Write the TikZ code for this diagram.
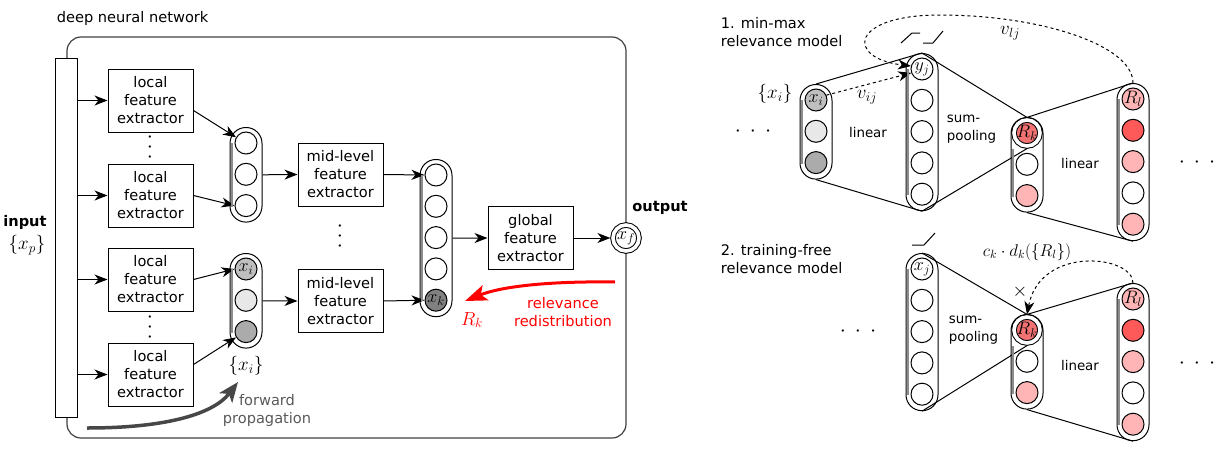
\documentclass[tikz,border=0pt]{standalone}
\usepackage{fix-cm}
\usepackage{fontspec}
\setmainfont{DejaVu Sans}
\usetikzlibrary{arrows.meta}

\definecolor{lightred}{HTML}{FFB5B5}
\definecolor{midred}{HTML}{F07272}
\definecolor{strongred}{HTML}{FF5A5A}

\newcommand{\vdotsfar}{\vbox{\baselineskip=10pt\lineskiplimit=-20pt\hbox{$\cdot$}\hbox{$\cdot$}\hbox{$\cdot$}}}
\newcommand{\hdotsfar}{$\cdot$\hspace{9pt}$\cdot$\hspace{9pt}$\cdot$}

\tikzset{
  txt/.style={font=\fontsize{14.6}{18}\selectfont, align=center},
  smalltxt/.style={font=\fontsize{13.4}{18}\selectfont, align=center},
  boldtxt/.style={font=\fontsize{14.6}{18}\selectfont\bfseries},
  mathtxt/.style={font=\fontsize{19}{22}\selectfont},
  dotstxt/.style={font=\fontsize{22}{22}\selectfont, inner sep=0pt},
  extractor/.style={draw, fill=white, txt, minimum width=85pt, minimum height=63pt, inner sep=0pt},
  neuron/.style={circle, draw, fill=white, minimum size=22pt, inner sep=-3pt, font=\fontsize{18}{18}\selectfont},
  pooled/.style={neuron, double, double distance=3.6pt, minimum size=26pt, outer sep=2.6pt},
  layer/.style={draw, fill=white, rounded corners=15.9pt, minimum width=32pt, inner sep=0pt, anchor=north},
  layer3/.style={layer, minimum height=94.6pt},
  layer5/.style={layer, minimum height=157.2pt},
  shadeline/.style={black!45, line width=1.5pt},
  weight/.style={dashed, ->},
}

\begin{document}
\begin{tikzpicture}[x=1pt,y=-1pt,line width=1pt,>={Stealth[length=13pt,width=10pt,inset=4pt]}]
        \useasboundingbox (0,0) rectangle (1227,458);

        % the deep neural network frame
        \draw[black!75, line width=1.2pt, rounded corners=14pt] (67,37) rectangle (626,438);
        \node[txt, anchor=west] (dnn) at (53,18) {deep neural network};

        % input bar
        \node[draw, fill=white, minimum width=22pt, minimum height=359pt, inner sep=0pt] (inp) at (66,237.5) {};
        \node[boldtxt] (inlbl) at (25,222) {input};
        \node[mathtxt] (xp) at (27,245) {$\{x_p\}$};

        % local feature extractors
        \foreach \i/\y in {1/100.5, 2/195.5, 3/279.5, 4/374.5} {
                \node[extractor] (lfe\i) at (150.5,\y) {local\\feature\\extractor};
                \draw[->] (inp.east |- lfe\i) -- (lfe\i);
        }
        \node[dotstxt] (vd1) at (150,148) {\vdotsfar};
        \node[dotstxt] (vd2) at (150,328) {\vdotsfar};

        % first local feature columns
        \node[layer3] (la) at (246,127) {};
        \foreach \i in {1,2,3}
                \node[neuron] (la\i) at (246,{143+31.3*(\i-1)}) {};
        \node[layer3] (lb) at (246,253) {};
        \foreach \i/\col/\lbl in {1/black!25/$x_i$, 2/black!9/{}, 3/black!33/{}}
                \node[neuron, fill=\col] (lb\i) at (246,{269+31.3*(\i-1)}) {\lbl};
        \node[mathtxt] (xiset) at (246,366) {$\{x_i\}$};

        \draw[->] ([yshift=-10pt]lfe1.east) -- (la1.150);
        \draw[->] (lfe2.east) -- (la3.west);
        \draw[->] (lfe3.east) -- (lb1.west);
        \draw[->] ([yshift=10pt]lfe4.east) -- (lb3.210);

        % mid-level feature extractors
        \node[extractor] (mid1) at (340.5,174.5) {mid-level\\feature\\extractor};
        \node[extractor] (mid2) at (340.5,301) {mid-level\\feature\\extractor};
        \node[dotstxt] (vd3) at (340,237) {\vdotsfar};
        \draw[->] (la.east) -- (mid1.west);
        \draw[->] (lb.east) -- (mid2.west);

        % mid-level column
        \node[layer5] (lc) at (436,159) {};
        \foreach \i/\col/\lbl in {1/white/{}, 2/white/{}, 3/white/{}, 4/white/{}, 5/black!50/$x_k$}
                \node[neuron, fill=\col] (lc\i) at (436,{175+31.3*(\i-1)}) {\lbl};
        \draw[->] (mid1.east) -- (lc1.west);
        \draw[->] (mid2.east) -- (lc5.west);

        % global feature extractor and output
        \node[extractor] (gfe) at (530.5,238) {global\\feature\\extractor};
        \node[pooled] (xf) at (626,238) {$x_f$};
        \node[boldtxt] (outlbl) at (660,208) {output};
        \draw[->] (lc.east) -- (gfe.west);
        \draw[->] (gfe.east) -- (xf.west);

        % relevance redistribution
        \coordinate (redA) at (615,282);
        \coordinate (redB) at (465,301);
        \draw[red, line width=3pt, -{Stealth[length=22pt,width=16pt,inset=5pt]}] (redA) .. controls (545,281) and (500,287) .. (redB);
        \node[mathtxt, text=red] (rklbl) at (472,320) {$R_k$};
        \node[txt, text=red] (redlbl) at (563,312) {relevance\\redistribution};

        % forward propagation
        \coordinate (fwdA) at (87,428);
        \coordinate (fwdB) at (238,382);
        \draw[black!72, line width=3.5pt, -{Stealth[length=20pt,width=16pt,inset=5pt]}] (fwdA) .. controls (160,428) and (212,416) .. (fwdB);
        \node[txt, text=black!65] (fwdlbl) at (267,410) {forward\\propagation};

        % 1. min-max relevance model
        \node[txt, align=left, anchor=west] (mm) at (717,32.5) {1. min-max\\relevance model};
        \node[layer3] (ra) at (816,84) {};
        \foreach \i/\col/\lbl in {1/black!25/$x_i$, 2/black!9/{}, 3/black!33/{}}
                \node[neuron, fill=\col] (ra\i) at (816,{100+31.3*(\i-1)}) {\lbl};
        \node[layer5] (rb) at (922,53) {};
        \foreach \i/\lbl in {1/$y_j$, 2/{}, 3/{}, 4/{}, 5/{}}
                \node[neuron] (rb\i) at (922,{69+31.3*(\i-1)}) {\lbl};
        \node[layer3] (rc) at (1027,117) {};
        \node[pooled, fill=midred] (rk1) at (1027,133) {$R_k$};
        \foreach \i/\col in {2/white, 3/lightred}
                \node[neuron, fill=\col] (rc\i) at (1027,{133+31.3*(\i-1)}) {};
        \node[layer5] (rd) at (1133,83) {};
        \foreach \i/\col/\lbl in {1/lightred/$R_l$, 2/strongred/{}, 3/lightred/{}, 4/white/{}, 5/lightred/{}}
                \node[neuron, fill=\col] (rd\i) at (1133,{99+31.3*(\i-1)}) {\lbl};

        \draw (ra.north) -- (rb.north) (ra.south) -- (rb.south);
        \draw (rb.north) -- (rk1.north) (rb.south) -- (rk1.south);
        \draw (rk1.north) -- (rd.north) (rc.south) -- (rd.south);
        \draw[weight] (ra1.25) -- (rb1.200);
        \draw[weight] (rd.north) .. controls (1133,45) and (1040,15) .. (940,15) .. controls (850,15) and (845,58) .. (rb1.165);
        % min-max step
        \draw (901,43) -- (912,33) -- (920,33) (923,43) -- (933,43) -- (943,31);

        \node[mathtxt] (xiset2) at (775,94) {$\{x_i\}$};
        \node[mathtxt] (vij) at (867,97) {$v_{ij}$};
        \node[mathtxt] (vlj) at (1010,33) {$v_{lj}$};
        \node[dotstxt] (dl1) at (753,132) {\hdotsfar};
        \node[smalltxt] (lin1) at (868,133) {linear};
        \node[smalltxt, align=left, anchor=west] (sp1) at (943,129) {sum-\\pooling};
        \node[smalltxt] (lin2) at (1080,164) {linear};
        \node[dotstxt] (dr1) at (1197,163) {\hdotsfar};

        % 2. training-free relevance model
        \node[txt, align=left, anchor=west] (tf) at (717,259) {2. training-free\\relevance model};
        \node[layer5] (re) at (922,253) {};
        \foreach \i/\lbl in {1/$x_j$, 2/{}, 3/{}, 4/{}, 5/{}}
                \node[neuron] (re\i) at (922,{269+31.3*(\i-1)}) {\lbl};
        \node[layer3] (rf) at (1027,314) {};
        \node[pooled, fill=midred] (rk2) at (1027,330) {$R_k$};
        \foreach \i/\col in {2/white, 3/lightred}
                \node[neuron, fill=\col] (rf\i) at (1027,{330+31.3*(\i-1)}) {};
        \node[layer5] (rg) at (1133,283) {};
        \foreach \i/\col/\lbl in {1/lightred/$R_l$, 2/strongred/{}, 3/lightred/{}, 4/white/{}, 5/lightred/{}}
                \node[neuron, fill=\col] (rg\i) at (1133,{299+31.3*(\i-1)}) {\lbl};

        \draw (re.north) -- (rk2.north) (re.south) -- (rk2.south);
        \draw (rk2.north) -- (rg.north) (rf.south) -- (rg.south);
        \draw[weight] (rg.north) .. controls (1133,255) and (1040,245) .. (rk2.north);
        % rectifier step
        \draw (912,245) -- (924,245) -- (935,233);

        \node[font=\fontsize{17}{20}\selectfont] (ckdk) at (1027,252) {$c_k\cdot d_k(\{R_l\})$};
        \node[mathtxt] (times) at (1020,292) {$\times$};
        \node[dotstxt] (dl2) at (858,332) {\hdotsfar};
        \node[smalltxt, align=left, anchor=west] (sp2) at (945,330) {sum-\\pooling};
        \node[smalltxt] (lin3) at (1080,365) {linear};
        \node[dotstxt] (dr2) at (1197,364) {\hdotsfar};

        % inner shading of the columns
        \foreach \col/\s in {la/16, lb/16, lc/16, ra/16, rb/16, rc/32, rd/16, re/16, rf/32, rg/16}
                \draw[shadeline] ([xshift=2.6pt,yshift=-\s pt]\col.north west) -- ([xshift=2.6pt,yshift=16pt]\col.south west);
\end{tikzpicture}
\end{document}
